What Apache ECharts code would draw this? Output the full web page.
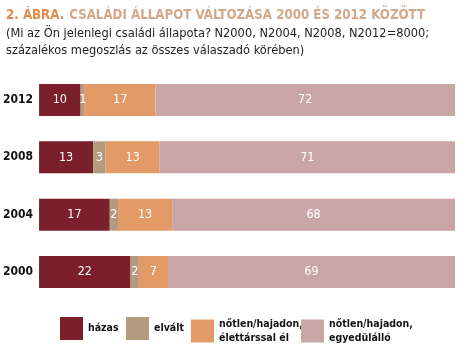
<!DOCTYPE html>
<html><head><meta charset="utf-8">
<script src="https://cdn.jsdelivr.net/npm/echarts@6/dist/echarts.min.js"></script>
<style>html,body{margin:0;padding:0;background:#fff}#c{width:467px;height:355px}</style>
</head><body><div id="c"></div>
<script>
const years = ['2012', '2008', '2004', '2000'];
const hazas = [10, 13, 17, 22];
const elvalt = [1, 3, 2, 2];
const elettars = [17, 13, 13, 7];
const egyedul = [72, 71, 68, 69];
const seriesNames = ['házas', 'elvált', 'nőtlen/hajadon, élettárssal él', 'nőtlen/hajadon, egyedülálló'];
const colors = ['#7b1f2b', '#b39b80', '#e39a66', '#caa5a5'];
const values = [hazas, elvalt, elettars, egyedul];
const legendLeft = [60, 126, 191, 301];

const chart = echarts.init(document.getElementById('c'));
const COND = '"DejaVu Sans Condensed", "Liberation Sans Narrow", sans-serif';
chart.setOption({
  animation: false,
  title: {
    left: 1, top: 2,
    text: '{a|2. ÁBRA.} {b|CSALÁDI ÁLLAPOT VÁLTOZÁSA 2000 ÉS 2012 KÖZÖTT}',
    textStyle: {
      rich: {
        a: {fontFamily: COND, fontWeight: 'bold', fontSize: 13.2, color: '#e08a4c'},
        b: {fontFamily: COND, fontWeight: 'bold', fontSize: 13.2, color: '#d2a888'}
      }
    },
    subtext: '(Mi az Ön jelenlegi családi állapota? N2000, N2004, N2008, N2012=8000;\nszázalékos megoszlás az összes válaszadó körében)',
    itemGap: 0,
    subtextStyle: {fontFamily: COND, fontSize: 12.7, color: '#222', lineHeight: 17}
  },
  legend: seriesNames.map((n, i) => ({
    left: legendLeft[i], top: 317, padding: 0,
    itemWidth: 23, itemHeight: 23, itemTextGap: 3,
    icon: 'rect',
    data: [n],
    formatter: s => s.replace(', ', ',\n'),
    textStyle: {fontFamily: COND, fontWeight: 'bold', fontSize: 10.5, color: '#111', lineHeight: 14}
  })),
  grid: {left: 39, right: 12, top: 71.3, bottom: 54.3, containLabel: false},
  xAxis: {type: 'value', min: 0, max: 100, show: false},
  yAxis: {
    type: 'category', data: years, inverse: true,
    axisLine: {show: false}, axisTick: {show: false},
    axisLabel: {margin: 6, fontFamily: COND, fontWeight: 'bold', fontSize: 12, color: '#111'}
  },
  series: values.map((v, i) => ({
    type: 'bar', name: seriesNames[i], stack: 'all', data: v, barWidth: 32,
    itemStyle: {color: colors[i]},
    label: {show: true, position: 'inside', color: '#fff', fontFamily: COND, fontSize: 12.5}
  }))
});
</script></body></html>
